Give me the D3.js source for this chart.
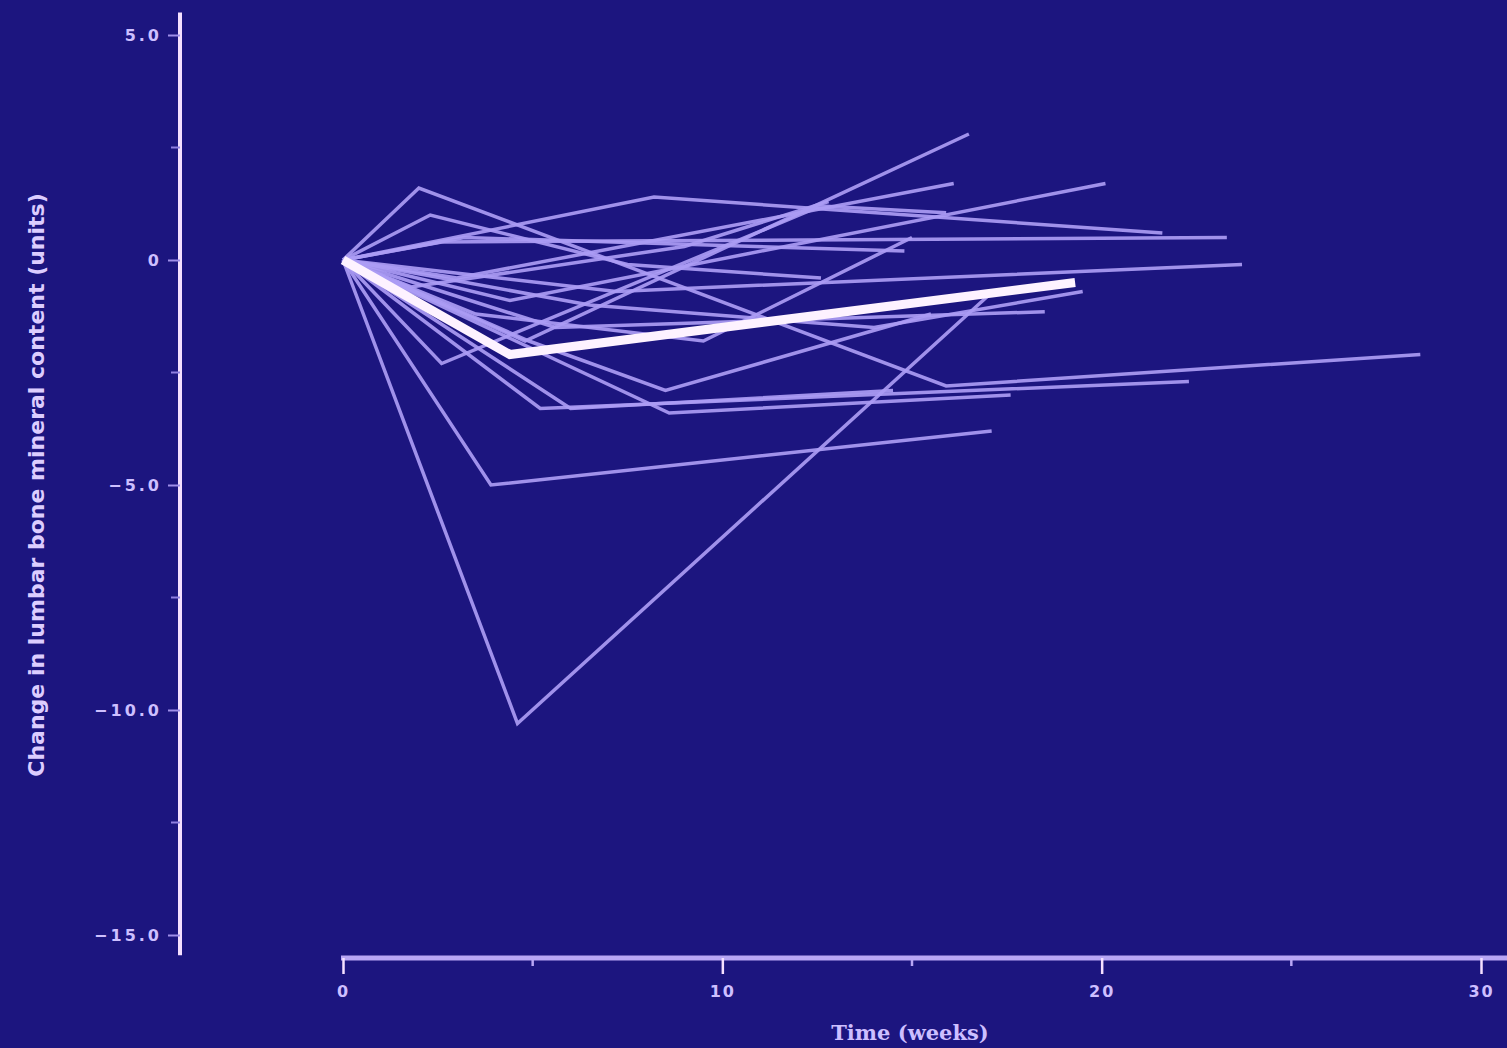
<!DOCTYPE html>
<html><head><meta charset="utf-8">
<script src="https://cdn.jsdelivr.net/npm/d3@7"></script>
<style>
html,body{margin:0;padding:0;background:#1c157f;}
svg{display:block;}
</style></head>
<body>
<svg id="chart" width="1507" height="1048"></svg>
<script>
// ---- data ----
const yTickValues = [5, 0, -5, -10, -15];
const yTickLabels = ["5.0", "0", "\u22125.0", "\u221210.0", "\u221215.0"];
const yMinorTicks = [2.5, -2.5, -7.5, -12.5];
const xTickValues = [0, 10, 20, 30];
const xTickLabels = ["0", "10", "20", "30"];
const xMinorTicks = [5, 15, 25];
const xTitle = "Time (weeks)";
const yTitle = "Change in lumbar bone mineral content (units)";

// individual subjects: [week, change]
const subjects = [
  [[0,0],[4.6,-10.3],[17.0,-0.8]],
  [[0,0],[3.9,-5.0],[17.1,-3.8]],
  [[0,0],[2.0,1.6],[15.9,-2.8],[28.4,-2.1]],
  [[0,0],[5.2,-3.3],[22.3,-2.7]],
  [[0,0],[8.6,-3.4],[17.6,-3.0]],
  [[0,0],[4.8,-1.8],[16.5,2.8]],
  [[0,0],[2.3,1.0],[7.5,-0.1],[12.6,-0.4]],
  [[0,0],[8.2,1.4],[21.6,0.6]],
  [[0,0],[4.4,-0.9],[20.1,1.7]],
  [[0,0],[3.0,-0.4],[16.1,1.7]],
  [[0,0],[2.6,0.4],[23.3,0.5]],
  [[0,0],[7.2,-0.7],[23.7,-0.1]],
  [[0,0],[3.2,0.5],[14.8,0.2]],
  [[0,0],[5.6,-1.5],[18.5,-1.15]],
  [[0,0],[2.6,-2.3],[12.6,1.2],[15.9,1.05]],
  [[0,0],[6.0,-3.3],[14.5,-2.9]],
  [[0,0],[4.9,-1.8],[8.5,-2.9],[15.5,-1.2]],
  [[0,0],[1.8,-0.6],[9.0,0.3],[12.8,1.3]],
  [[0,0],[6.5,-1.0],[14.0,-1.5],[19.5,-0.7]],
  [[0,0],[3.5,-1.2],[9.5,-1.8],[15.0,0.5]]
];
// group mean
const meanSeries = [[0,0],[4.4,-2.1],[19.3,-0.5]];

// ---- scales ----
const svg = d3.select("#chart");
const x = d3.scaleLinear().domain([0, 30]).range([343, 1481]);
const y = d3.scaleLinear().domain([-15, 5]).range([935, 35]);

const lavender = "#ab9cf4";
const axisCol = "#f5e0ff";
const textCol = "#cdbfff";

// ---- y axis ----
const yAxisX = 180;
svg.append("line")
  .attr("x1", yAxisX).attr("x2", yAxisX)
  .attr("y1", y(5.5)).attr("y2", y(-15.45))
  .attr("stroke", axisCol).attr("stroke-width", 4);

const yAxis = d3.axisLeft(y).tickValues(yTickValues)
  .tickFormat((d,i) => yTickLabels[i]).tickSize(12).tickPadding(6);
const gy = svg.append("g").attr("transform", `translate(${yAxisX},0)`).call(yAxis);
gy.select(".domain").remove();
gy.selectAll(".tick line").attr("stroke", "#9f8fe8").attr("stroke-width", 2);
gy.selectAll(".tick text").attr("fill", textCol)
  .style("font-family", "DejaVu Sans, sans-serif").style("font-size", "16px")
  .style("font-weight", "bold").style("letter-spacing", "3px");

svg.append("g").selectAll("line").data(yMinorTicks).join("line")
  .attr("x1", yAxisX - 9).attr("x2", yAxisX)
  .attr("y1", d => y(d)).attr("y2", d => y(d))
  .attr("stroke", "#8f80e0").attr("stroke-width", 2);

// ---- x axis ----
const xAxisY = 958;
svg.append("line")
  .attr("x1", x(0) - 2).attr("x2", 1507)
  .attr("y1", xAxisY).attr("y2", xAxisY)
  .attr("stroke", "#b8a6f4").attr("stroke-width", 5);

const xAxis = d3.axisBottom(x).tickValues(xTickValues)
  .tickFormat((d,i) => xTickLabels[i]).tickSize(16).tickPadding(12);
const gx = svg.append("g").attr("transform", `translate(0,${xAxisY})`).call(xAxis);
gx.select(".domain").remove();
gx.selectAll(".tick line").attr("stroke", axisCol).attr("stroke-width", 2.5);
gx.selectAll(".tick text").attr("fill", textCol)
  .style("font-family", "DejaVu Sans, sans-serif").style("font-size", "16px")
  .style("font-weight", "bold").style("letter-spacing", "2px");

svg.append("g").selectAll("line").data(xMinorTicks).join("line")
  .attr("x1", d => x(d)).attr("x2", d => x(d))
  .attr("y1", xAxisY).attr("y2", xAxisY + 8)
  .attr("stroke", "#b8a6f4").attr("stroke-width", 2.5);

// ---- titles ----
svg.append("text")
  .attr("x", 910).attr("y", 1040)
  .attr("text-anchor", "middle").attr("fill", textCol)
  .style("font-family", "DejaVu Serif, serif").style("font-size", "21px")
  .style("font-weight", "bold")
  .text(xTitle);

svg.append("text")
  .attr("transform", "translate(44,485) rotate(-90)")
  .attr("text-anchor", "middle").attr("fill", "#dccdff")
  .style("font-family", "DejaVu Sans, sans-serif").style("font-size", "22px")
  .style("font-weight", "bold")
  .text(yTitle);

// ---- lines ----
const line = d3.line().x(d => x(d[0])).y(d => y(d[1]));

svg.append("g").selectAll("path").data(subjects).join("path")
  .attr("d", line)
  .attr("fill", "none")
  .attr("stroke", lavender)
  .attr("stroke-width", 3.5)
  .attr("stroke-opacity", 0.92)
  .attr("stroke-linejoin", "miter");

svg.append("path").datum(meanSeries)
  .attr("d", line)
  .attr("fill", "none")
  .attr("stroke", "#fdf2ff")
  .attr("stroke-width", 9)
  .attr("stroke-linejoin", "miter");
</script>
</body></html>
